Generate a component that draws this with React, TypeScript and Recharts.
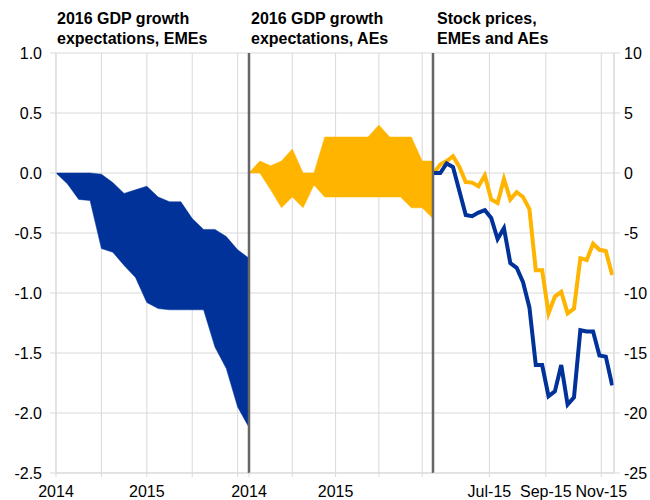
import React from 'react';
import {
  Area,
  CartesianGrid,
  ComposedChart,
  Line,
  ReferenceLine,
  XAxis,
  YAxis,
} from 'recharts';

// Survey dates for the GDP expectation ranges (decimal years)
const gdpDates = [
  2014, 2014.125, 2014.25, 2014.375, 2014.5, 2014.625, 2014.75, 2014.875, 2015, 2015.125,
  2015.25, 2015.375, 2015.5, 2015.625, 2015.75, 2015.875, 2016, 2016.125,
];

// 2016 GDP growth expectations, EMEs (range, pp change)
const emeHigh = [
  0, 0, 0, 0, -0.01, -0.08, -0.17, -0.14, -0.11, -0.2, -0.24, -0.24, -0.38, -0.47, -0.47, -0.53,
  -0.64, -0.71,
];
const emeLow = [
  0, -0.09, -0.22, -0.23, -0.63, -0.66, -0.77, -0.87, -1.08, -1.13, -1.14, -1.14, -1.14, -1.14,
  -1.45, -1.63, -1.95, -2.12,
];

// 2016 GDP growth expectations, AEs
const aeHigh = [0, 0.1, 0.06, 0.1, 0.2, 0, 0, 0.3, 0.3, 0.3, 0.3, 0.3, 0.4, 0.3, 0.3, 0.3, 0.1, 0.1];
const aeLow = [
  0, 0, -0.14, -0.29, -0.2, -0.29, -0.1, -0.2, -0.2, -0.2, -0.2, -0.2, -0.2, -0.2, -0.2, -0.29,
  -0.29, -0.38,
];

// Weekly stock prices (% change)
const stockDates = [
  '2015-05-01', '2015-05-08', '2015-05-15', '2015-05-22', '2015-05-29',
  '2015-06-05', '2015-06-12', '2015-06-19', '2015-06-26',
  '2015-07-03', '2015-07-10', '2015-07-17', '2015-07-24', '2015-07-31',
  '2015-08-07', '2015-08-14', '2015-08-21', '2015-08-28',
  '2015-09-04', '2015-09-11', '2015-09-18', '2015-09-25',
  '2015-10-02', '2015-10-09', '2015-10-16', '2015-10-23', '2015-10-30',
  '2015-11-06', '2015-11-13',
];
const aeStocks = [
  0, 0.7, 1.0, 1.4, 0.5, -0.75, -0.8, -1.1, -0.2, -2.2, -2.5, -0.5, -2.2, -1.6, -2.0, -3.0, -8.1,
  -8.1, -11.7, -10.3, -9.9, -11.7, -11.3, -7.1, -7.25, -5.9, -6.4, -6.5, -8.5,
];
const emeStocks = [
  0, 0, 0.8, 0.5, -1.5, -3.5, -3.6, -3.3, -3.1, -3.75, -5.5, -4.6, -7.5, -7.9, -9.1, -11.2, -16.0,
  -16.0, -18.6, -18.2, -16.0, -19.3, -18.7, -13.1, -13.2, -13.2, -15.2, -15.3, -17.7,
];

const stockTickDates = ['2015-07-01', '2015-09-01', '2015-11-01'];
const stockTickLabels = ['Jul-15', 'Sep-15', 'Nov-15'];
const stockDomain = ['2015-04-30', '2015-11-15'];

const gdpTicks = [2014, 2014.5, 2015, 2015.5, 2016];
const leftTicks = [-2.5, -2, -1.5, -1, -0.5, 0, 0.5, 1];
const rightTicks = [-25, -20, -15, -10, -5, 0, 5, 10];

const BLUE = '#003299';
const YELLOW = '#FFB400';
const GRID = '#d9d9d9';
const SEPARATOR = '#666666';

const toDay = (s: string) => {
  const [y, m, d] = s.split('-').map(Number);
  return (Date.UTC(y, m - 1, d) - Date.UTC(2015, 0, 1)) / 864e5;
};

const emeData = gdpDates.map((x, i) => ({ x, range: [emeLow[i], emeHigh[i]] }));
const aeData = gdpDates.map((x, i) => ({ x, range: [aeLow[i], aeHigh[i]] }));
const stockData = stockDates.map((d, i) => ({ x: toDay(d), ae: aeStocks[i], eme: emeStocks[i] }));

const tickStyle = { fill: '#000', fontSize: 16 };
const yearLabel = (v: number) => (v === 2014 || v === 2015 ? String(v) : '');

const layer: React.CSSProperties = { position: 'absolute', left: 0, top: 0 };

function Title({ x, lines }: { x: number; lines: string[] }) {
  return (
    <div
      style={{
        position: 'absolute',
        left: x,
        top: 9,
        fontWeight: 'bold',
        fontSize: 16,
        lineHeight: '20px',
        color: '#000',
        whiteSpace: 'nowrap',
      }}
    >
      {lines.map((l) => (
        <div key={l}>{l}</div>
      ))}
    </div>
  );
}

export default function App() {
  return (
    <div
      style={{
        position: 'absolute',
        left: 0,
        top: 0,
        width: 650,
        height: 500,
        background: '#fff',
        fontFamily: '"Liberation Sans", Arial, sans-serif',
      }}
    >
      {/* EMEs GDP expectations */}
      <div style={layer}>
        <ComposedChart
          width={650}
          height={500}
          data={emeData}
          margin={{ top: 53, right: 401, bottom: 0, left: 0 }}
        >
          <CartesianGrid stroke={GRID} />
          <XAxis
            dataKey="x"
            type="number"
            domain={[2014, 2016.125]}
            ticks={gdpTicks}
            interval={0}
            tickFormatter={yearLabel}
            height={27}
            stroke={GRID}
            tick={tickStyle}
            tickSize={4}
            tickMargin={9}
          />
          <YAxis
            domain={[-2.5, 1]}
            ticks={leftTicks}
            interval={0}
            tickFormatter={(v: number) => v.toFixed(1)}
            width={56}
            stroke={GRID}
            tick={tickStyle}
            tickSize={6}
            tickMargin={8}
          />
          <Area
            dataKey="range"
            type="linear"
            fill={BLUE}
            fillOpacity={1}
            stroke={BLUE}
            strokeWidth={0.5}
            isAnimationActive={false}
          />
        </ComposedChart>
      </div>

      {/* AEs GDP expectations */}
      <div style={layer}>
        <ComposedChart
          width={650}
          height={500}
          data={aeData}
          margin={{ top: 53, right: 217, bottom: 0, left: 249 }}
        >
          <CartesianGrid stroke={GRID} />
          <XAxis
            dataKey="x"
            type="number"
            domain={[2014, 2016.125]}
            ticks={gdpTicks}
            interval={0}
            tickFormatter={yearLabel}
            height={27}
            stroke={GRID}
            tick={tickStyle}
            tickSize={4}
            tickMargin={9}
          />
          <YAxis hide domain={[-2.5, 1]} ticks={leftTicks} />
          <Area
            dataKey="range"
            type="linear"
            fill={YELLOW}
            fillOpacity={1}
            stroke={YELLOW}
            strokeWidth={0.5}
            isAnimationActive={false}
          />
          <ReferenceLine x={2014} stroke={SEPARATOR} strokeWidth={2.5} />
        </ComposedChart>
      </div>

      {/* Stock prices */}
      <div style={layer}>
        <ComposedChart
          width={650}
          height={500}
          data={stockData}
          margin={{ top: 53, right: 0, bottom: 0, left: 433 }}
        >
          <CartesianGrid stroke={GRID} />
          <XAxis
            dataKey="x"
            type="number"
            domain={[toDay(stockDomain[0]), toDay(stockDomain[1])]}
            ticks={stockTickDates.map(toDay)}
            interval={0}
            tickFormatter={(v: number) => stockTickLabels[stockTickDates.map(toDay).indexOf(v)] ?? ''}
            height={27}
            stroke={GRID}
            tick={tickStyle}
            tickSize={4}
            tickMargin={9}
          />
          <YAxis
            orientation="right"
            domain={[-25, 10]}
            ticks={rightTicks}
            interval={0}
            width={36}
            stroke={GRID}
            tick={tickStyle}
            tickSize={6}
            tickMargin={4}
          />
          <Line
            dataKey="ae"
            type="linear"
            stroke={YELLOW}
            strokeWidth={4}
            dot={false}
            isAnimationActive={false}
          />
          <Line
            dataKey="eme"
            type="linear"
            stroke={BLUE}
            strokeWidth={4}
            dot={false}
            isAnimationActive={false}
          />
          <ReferenceLine x={toDay(stockDomain[0])} stroke={SEPARATOR} strokeWidth={2.5} />
        </ComposedChart>
      </div>

      <Title x={57} lines={['2016 GDP growth', 'expectations, EMEs']} />
      <Title x={251} lines={['2016 GDP growth', 'expectations, AEs']} />
      <Title x={437} lines={['Stock prices,', 'EMEs and AEs']} />
    </div>
  );
}
